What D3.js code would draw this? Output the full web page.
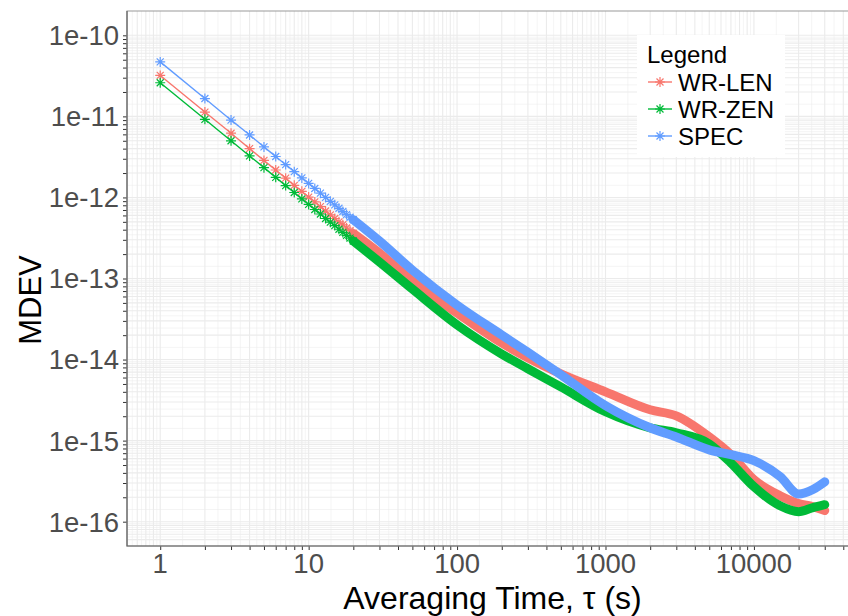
<!DOCTYPE html>
<html>

<head>
    <meta charset="utf-8">
    <style>
        body {
            margin: 0;
            background: #fff;
        }

        svg {
            font-family: 'Liberation Sans', Arial, sans-serif;
        }

        .tick-label {
            font-size: 27.5px;
            fill: #4d4d4d;
        }

        .axis-title {
            font-size: 32px;
            fill: #000;
        }

        .legend-title {
            font-size: 24px;
        }

        .legend-label {
            font-size: 24px;
        }
    </style>
</head>

<body>
    <svg width="848" height="616"></svg>
</body>

<script src="https://d3js.org/d3.v7.min.js"></script>

<script>
    // averaging times and MDEV values
    let tau = [1, 2, 3, 4, 5, 6, 7, 8, 9, 10, 11, 12, 13, 14, 15, 16, 17, 18, 19, 20,
        30, 50, 100, 200, 300, 500, 1000, 2000, 3000, 5000, 7000, 10000, 15000, 20000, 25000, 30000]

    let wrLen = [3.2e-11, 1.13e-11, 6.2e-12, 4.0e-12, 2.86e-12, 2.18e-12, 1.73e-12, 1.41e-12, 1.19e-12, 1.01e-12,
        8.8e-13, 7.7e-13, 6.8e-13, 6.1e-13, 5.5e-13, 5.0e-13, 4.6e-13, 4.2e-13, 3.9e-13, 3.6e-13,
        2.06e-13, 9.3e-14, 3.76e-14, 1.6e-14, 1.05e-14, 6.67e-15,
        4.0e-15, 2.4e-15, 2.02e-15, 1.11e-15, 6.7e-16, 3.3e-16, 2.09e-16, 1.67e-16, 1.53e-16, 1.37e-16]

    let wrZen = [2.6e-11, 9.2e-12, 5.0e-12, 3.25e-12, 2.33e-12, 1.77e-12, 1.4e-12, 1.15e-12, 9.6e-13, 8.2e-13,
        7.1e-13, 6.25e-13, 5.5e-13, 4.95e-13, 4.5e-13, 4.05e-13, 3.7e-13, 3.4e-13, 3.15e-13, 2.9e-13,
        1.6e-13, 7.4e-14, 2.68e-14, 1.17e-14, 7.7e-15, 4.6e-15,
        2.27e-15, 1.44e-15, 1.25e-15, 9.1e-16, 5.3e-16, 2.7e-16, 1.57e-16, 1.33e-16, 1.49e-16, 1.62e-16]

    let spec = [4.7e-11, 1.66e-11, 9.0e-12, 5.9e-12, 4.2e-12, 3.2e-12, 2.54e-12, 2.08e-12, 1.74e-12, 1.49e-12,
        1.29e-12, 1.13e-12, 1.0e-12, 8.95e-13, 8.1e-13, 7.35e-13, 6.7e-13, 6.15e-13, 5.7e-13, 5.3e-13,
        2.9e-13, 1.27e-13, 4.7e-14, 2.01e-14, 1.23e-14, 6.5e-15,
        2.7e-15, 1.44e-15, 1.11e-15, 7.7e-16, 6.7e-16, 5.65e-16, 3.6e-16, 2.2e-16, 2.5e-16, 3.1e-16]

    let seriesNames = ["WR-LEN", "WR-ZEN", "SPEC"]
    let seriesColors = ["#F8766D", "#00BA38", "#619CFF"]

    let xLabels = [1, 10, 100, 1000, 10000]
    let yLabels = [1e-16, 1e-15, 1e-14, 1e-13, 1e-12, 1e-11, 1e-10]

    let svg = d3.select("svg")

    let margin = { top: 11, right: -10, bottom: 70, left: 127 }
    let width = 848
    let height = 616

    let x = d3.scaleLog()
        .domain([Math.pow(10, -0.2238), Math.pow(10, 4.7012)])
        .range([margin.left, width - margin.right])

    let y = d3.scaleLog()
        .domain([Math.pow(10, -16.3), Math.pow(10, -9.7)])
        .range([height - margin.bottom, margin.top])

    // 1..9 multiples for ticks and grid
    function multiples(lo, hi) {
        let out = []
        for (let e = lo; e <= hi; e++) {
            for (let m = 1; m <= 9; m++) out.push(m * Math.pow(10, e))
        }
        return out
    }
    let xGrid = multiples(-1, 4).filter(d => d >= x.domain()[0] && d <= x.domain()[1])
    let yGrid = multiples(-17, -10).filter(d => d >= y.domain()[0] && d <= y.domain()[1])
    let xTicks = xGrid.filter(d => d >= 1)
    let yTicks = yGrid.filter(d => d >= 1e-16 * 0.999 && d <= 1e-10 * 1.001)

    function mids(vals) {
        let out = []
        for (let i = 0; i < vals.length - 1; i++) out.push(Math.sqrt(vals[i] * vals[i + 1]))
        return out
    }

    let panel = svg.append("g").attr("class", "panel")

    // minor grid
    panel.selectAll(".xminor")
        .data(mids(xGrid))
        .join("line")
        .attr("x1", d => x(d)).attr("x2", d => x(d))
        .attr("y1", y.range()[0]).attr("y2", y.range()[1])
        .attr("stroke", "#ebebeb").attr("stroke-width", 0.55)

    panel.selectAll(".yminor")
        .data(mids(yGrid))
        .join("line")
        .attr("y1", d => y(d)).attr("y2", d => y(d))
        .attr("x1", x.range()[0]).attr("x2", x.range()[1])
        .attr("stroke", "#ebebeb").attr("stroke-width", 0.55)

    // major grid
    panel.selectAll(".xmajor")
        .data(xGrid)
        .join("line")
        .attr("x1", d => x(d)).attr("x2", d => x(d))
        .attr("y1", y.range()[0]).attr("y2", y.range()[1])
        .attr("stroke", "#ebebeb").attr("stroke-width", 1.1)

    panel.selectAll(".ymajor")
        .data(yGrid)
        .join("line")
        .attr("y1", d => y(d)).attr("y2", d => y(d))
        .attr("x1", x.range()[0]).attr("x2", x.range()[1])
        .attr("stroke", "#ebebeb").attr("stroke-width", 1.1)

    // axes
    let xAxis = svg.append("g")
        .attr("transform", `translate(0, ${y.range()[0]})`)
        .call(d3.axisBottom(x).tickValues(xTicks).tickSize(4).tickFormat(""))
    xAxis.select(".domain").remove()
    xAxis.selectAll(".tick line").attr("stroke", "#333")

    let yAxis = svg.append("g")
        .attr("transform", `translate(${x.range()[0]}, 0)`)
        .call(d3.axisLeft(y).tickValues(yTicks).tickSize(4).tickFormat(""))
    yAxis.select(".domain").remove()
    yAxis.selectAll(".tick line").attr("stroke", "#333")

    svg.append("g").selectAll("text")
        .data(xLabels)
        .join("text")
        .attr("class", "tick-label")
        .attr("x", d => x(d))
        .attr("y", y.range()[0] + 27)
        .attr("text-anchor", "middle")
        .text(d => d)

    svg.append("g").selectAll("text")
        .data(yLabels)
        .join("text")
        .attr("class", "tick-label")
        .attr("x", x.range()[0] - 8)
        .attr("y", d => y(d))
        .attr("dy", "0.36em")
        .attr("text-anchor", "end")
        .text(d => "1e" + Math.round(Math.log10(d)))

    // series
    let series = [wrLen, wrZen, spec].map((vals, i) => ({
        name: seriesNames[i],
        color: seriesColors[i],
        points: tau.map((t, j) => ({ t: t, v: vals[j] }))
    }))

    let line = d3.line()
        .x(d => x(d.t))
        .y(d => y(d.v))
        .curve(d3.curveMonotoneX)

    let star = "M-5,0H5M0,-5V5M-3.5,-3.5L3.5,3.5M-3.5,3.5L3.5,-3.5"

    let marks = svg.append("g").attr("class", "marks")

    series.forEach(s => {
        let g = marks.append("g")
        g.append("path")
            .attr("d", line(s.points))
            .attr("fill", "none")
            .attr("stroke", s.color)
            .attr("stroke-width", 1.4)
        // dense markers overlap into a band
        g.append("path")
            .attr("d", line(s.points.filter(d => d.t >= 20)))
            .attr("fill", "none")
            .attr("stroke", s.color)
            .attr("stroke-width", 9)
            .attr("stroke-linecap", "round")
            .attr("stroke-linejoin", "round")
        g.selectAll(".pt")
            .data(s.points.filter(d => d.t <= 20))
            .join("path")
            .attr("transform", d => `translate(${x(d.t)},${y(d.v)})`)
            .attr("d", star)
            .attr("fill", "none")
            .attr("stroke", s.color)
            .attr("stroke-width", 1.2)
    })

    // panel border
    svg.append("rect")
        .attr("x", x.range()[0])
        .attr("y", y.range()[1])
        .attr("width", x.range()[1] - x.range()[0])
        .attr("height", y.range()[0] - y.range()[1])
        .attr("fill", "none")
        .attr("stroke", "#999")
        .attr("stroke-width", 1)
    svg.append("path")
        .attr("d", `M${x.range()[0]},${y.range()[1]}V${y.range()[0]}H${x.range()[1]}`)
        .attr("fill", "none")
        .attr("stroke", "#666")
        .attr("stroke-width", 1.2)

    // titles
    svg.append("text")
        .attr("class", "axis-title")
        .attr("x", (x.range()[0] + x.range()[1]) / 2)
        .attr("y", 609)
        .attr("text-anchor", "middle")
        .text("Averaging Time, τ (s)")

    svg.append("text")
        .attr("class", "axis-title")
        .style("font-size", "31px")
        .attr("transform", "translate(41, 300) rotate(-90)")
        .attr("text-anchor", "middle")
        .text("MDEV")

    // legend
    let legend = svg.append("g").attr("transform", "translate(637, 35)")
    legend.append("rect")
        .attr("width", 148).attr("height", 122)
        .attr("fill", "#fff")
    legend.append("text")
        .attr("class", "legend-title")
        .attr("x", 10).attr("y", 28)
        .text("Legend")
    let items = legend.selectAll(".item")
        .data(series)
        .join("g")
        .attr("transform", (d, i) => `translate(0, ${47 + i * 27})`)
    items.append("line")
        .attr("x1", 11).attr("x2", 35)
        .attr("stroke", d => d.color).attr("stroke-width", 1.4)
    items.append("path")
        .attr("transform", "translate(23,0)")
        .attr("d", star)
        .attr("fill", "none")
        .attr("stroke", d => d.color)
        .attr("stroke-width", 1.2)
    items.append("text")
        .attr("class", "legend-label")
        .attr("x", 41)
        .attr("dy", "0.36em")
        .text(d => d.name)
</script>

</html>
